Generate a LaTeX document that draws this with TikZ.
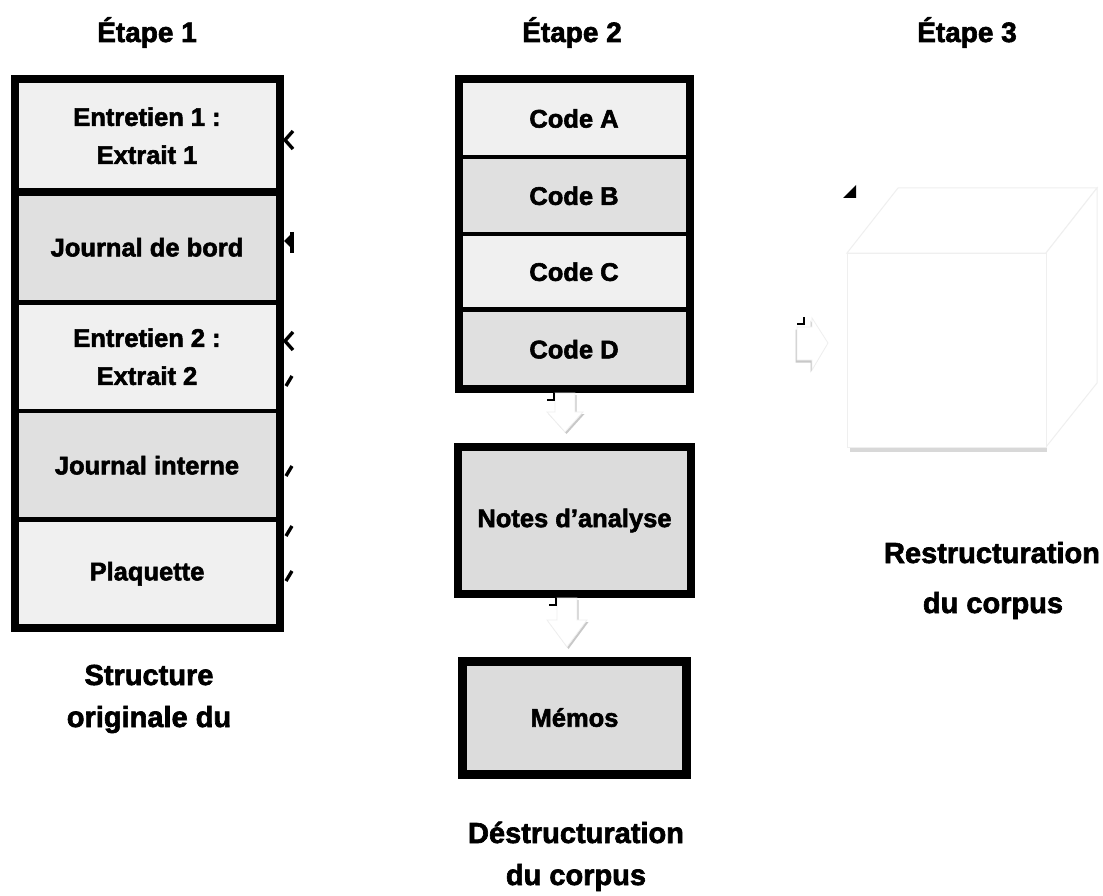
\documentclass[tikz,border=0pt]{standalone}
\usepackage{fontspec}
\setmainfont{Liberation Sans}[BoldFeatures={FakeBold=2.2}]
\usetikzlibrary{calc}
\definecolor{lightfill}{HTML}{F0F0F0}
\definecolor{darkfill}{HTML}{E0E0E0}
\definecolor{notefill}{HTML}{DCDCDC}
\definecolor{shadowc}{HTML}{C8C8C8}
\definecolor{edgec}{HTML}{EFEFEF}
\tikzset{
  cell/.style={rectangle, inner sep=0pt, outer sep=0pt, draw=none, align=center,
    font=\fontsize{25.5}{38}\selectfont\bfseries},
  lcell/.style={cell, minimum width=265pt},
  mcell/.style={cell, minimum width=231pt},
  title/.style={anchor=base, inner sep=0pt, font=\fontsize{28}{34}\selectfont\bfseries},
  caption/.style={anchor=base, inner sep=0pt, font=\fontsize{29}{34}\selectfont\bfseries},
  frame/.style={line width=8pt, line join=miter},
  divider/.style={line width=#1},
  artefact/.style={line width=3.4pt, black},
  arrowbody/.style={fill=white, draw=edgec, line width=0.8pt},
  arrowshadow/.style={fill=shadowc},
}
\begin{document}
\begin{tikzpicture}[x=1pt, y=-1pt]
\useasboundingbox (0,0) rectangle (1103,896);
\fill[white] (0,0) rectangle (1103,896);

% titles
\node[title] (t1) at (147,42) {Étape 1};
\node[title] (t2) at (572,42) {Étape 2};
\node[title] (t3) at (967,42) {Étape 3};

% ---------- column 1
\node[lcell, fill=lightfill, minimum height=112.5pt] (e1) at (147,135.75) {Entretien 1 :\\Extrait 1};
\node[lcell, fill=darkfill,  minimum height=110.5pt] (jb) at (147,247.25) {Journal de bord};
\node[lcell, fill=lightfill, minimum height=108.5pt] (e2) at (147,356.75) {Entretien 2 :\\Extrait 2};
\node[lcell, fill=darkfill,  minimum height=108.5pt] (ji) at (147,465.25) {Journal interne};
\node[lcell, fill=lightfill, minimum height=108.5pt] (pl) at (147,573.75) {Plaquette};
\draw[divider=8pt] (e1.south west) -- (e1.south east);
\draw[divider=5pt] (jb.south west) -- (jb.south east);
\draw[divider=4pt] (e2.south west) -- (e2.south east);
\draw[divider=5pt] (ji.south west) -- (ji.south east);
\draw[frame] (e1.north west) rectangle (pl.south east);

% small marks beside column 1
\draw[artefact] (293,131) -- (285,140) -- (293,149);
\fill (284,241) -- (291,234) -- (291,248) -- cycle;
\draw[artefact] (292,232) -- (292,253);
\draw[artefact] (293,332) -- (285,341) -- (293,350);
\draw[artefact] (286,386) -- (292,376);
\draw[artefact] (286,476) -- (292,466);
\draw[artefact] (286,536) -- (292,526);
\draw[artefact] (286,581) -- (292,571);

\node[caption] (s1) at (149,685) {Structure};
\node[caption] (s2) at (149,727) {originale du};

% ---------- column 2
\node[mcell, fill=lightfill, minimum height=78pt]   (ca) at (574,118.5) {Code A};
\node[mcell, fill=darkfill,  minimum height=76.5pt] (cb) at (574,195.75) {Code B};
\node[mcell, fill=lightfill, minimum height=75.5pt] (cc) at (574,271.75) {Code C};
\node[mcell, fill=darkfill,  minimum height=79.5pt] (cd) at (574,349.25) {Code D};
\draw[divider=4pt] (ca.south west) -- (ca.south east);
\draw[divider=4pt] (cb.south west) -- (cb.south east);
\draw[divider=5pt] (cc.south west) -- (cc.south east);
\draw[frame] (ca.north west) rectangle (cd.south east);

\node[cell, fill=notefill, minimum width=233pt, minimum height=147pt] (notes) at (574.5,520.5) {Notes d’analyse};
\draw[frame] (notes.north west) rectangle (notes.south east);

\node[cell, fill=notefill, minimum width=224pt, minimum height=113pt] (memos) at (574.5,717.5) {Mémos};
\draw[line width=9pt] (memos.north west) rectangle (memos.south east);

% block arrows between the boxes of column 2
\coordinate (a1) at ($(cd.south)+(-9,4)$);
\fill[arrowshadow, shift={(a1)}, xshift=1.5pt, yshift=-2pt]
  (-10,0) -- (-10,19) -- (-18,19) -- (0,39) -- (18,19) -- (10,19) -- (10,0) -- cycle;
\filldraw[arrowbody, shift={(a1)}]
  (-10,0) -- (-10,19) -- (-18,19) -- (0,39) -- (18,19) -- (10,19) -- (10,0) -- cycle;
\draw[line width=2pt] ($(a1)+(-18,7)$) -- ($(a1)+(-11,7)$) -- ($(a1)+(-11,0)$);

\coordinate (a2) at ($(notes.south)+(-7.5,4)$);
\fill[arrowshadow, shift={(a2)}, xshift=1.5pt, yshift=-2pt]
  (-10,0) -- (-10,22) -- (-20,22) -- (0,49) -- (20,22) -- (10,22) -- (10,0) -- cycle;
\filldraw[arrowbody, shift={(a2)}]
  (-10,0) -- (-10,22) -- (-20,22) -- (0,49) -- (20,22) -- (10,22) -- (10,0) -- cycle;
\draw[line width=2pt] ($(a2)+(-18,7)$) -- ($(a2)+(-11,7)$) -- ($(a2)+(-11,0)$);

\node[caption] (d1) at (576,843) {Déstructuration};
\node[caption] (d2) at (576,885) {du corpus};

% ---------- column 3 : cube
\node[rectangle, inner sep=0pt, outer sep=0pt, minimum width=199pt, minimum height=194pt] (front) at (946.5,350) {};
\fill[shadowc!70] ($(front.south west)+(3,1)$) rectangle ($(front.south east)+(1,5)$);
\filldraw[fill=white, draw=edgec, line width=1pt]
  (front.north west) -- ($(front.north west)+(51,-65)$) -- ($(front.north east)+(51,-65)$) -- (front.north east) -- cycle;
\filldraw[fill=white, draw=edgec, line width=1pt]
  (front.north east) -- ($(front.north east)+(51,-65)$) -- ($(front.south east)+(51,-64)$) -- (front.south east) -- cycle;
\filldraw[fill=white, draw=edgec, line width=1pt] (front.north west) rectangle (front.south east);
\fill ($(front.north west)+(-4,-55)$) -- ($(front.north west)+(9,-55)$) -- ($(front.north west)+(9,-68)$) -- cycle;

% small arrow towards the cube
\coordinate (a3) at (front.west);
\fill[arrowshadow, shift={(a3)}, xshift=-1.5pt, yshift=-2.5pt]
  (-50,-23) -- (-35,-23) -- (-35,-32) -- (-19,-7) -- (-35,20) -- (-35,10) -- (-50,10) -- cycle;
\filldraw[arrowbody, shift={(a3)}]
  (-50,-23) -- (-35,-23) -- (-35,-32) -- (-19,-7) -- (-35,20) -- (-35,10) -- (-50,10) -- cycle;
\draw[line width=2pt] ($(a3)+(-50,-26)$) -- ($(a3)+(-43,-26)$) -- ($(a3)+(-43,-33)$);

\node[caption] (r1) at (992,563) {Restructuration};
\node[caption] (r2) at (993,613) {du corpus};
\end{tikzpicture}
\end{document}
